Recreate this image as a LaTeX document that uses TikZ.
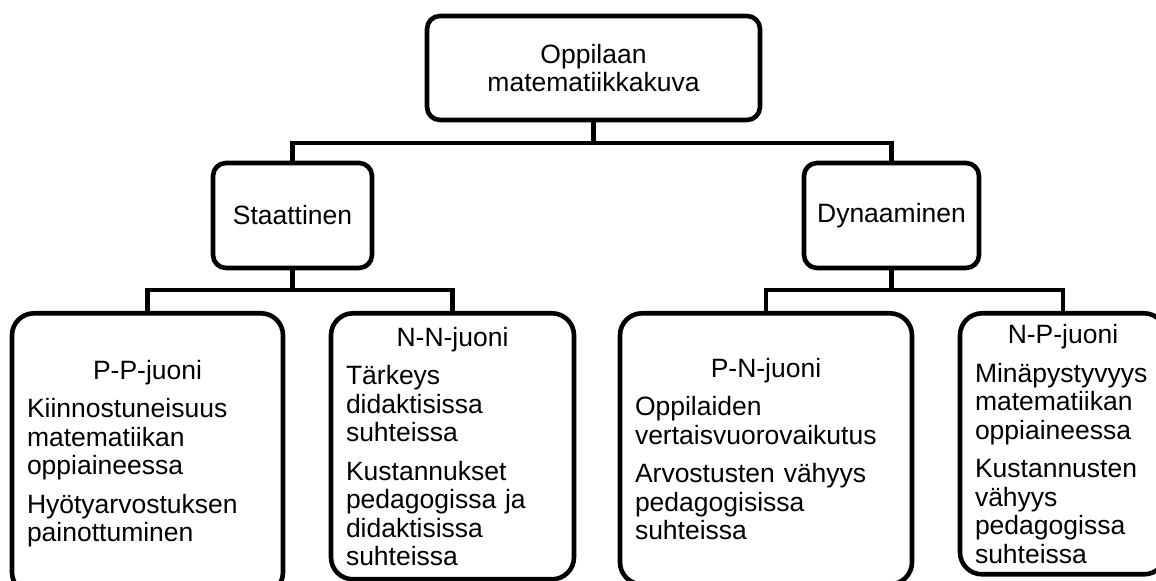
\documentclass[tikz,border=0pt]{standalone}
\usepackage{fontspec}
\setmainfont{Liberation Sans}

\newcommand{\otsikko}[1]{{\centering #1\par}}

\begin{document}
\begin{tikzpicture}[x=0.5pt, y=-0.5pt,
    box/.style={draw, line width=2.3pt, rounded corners=6.5pt, align=center, inner sep=0pt,
      font=\fontsize{13.25}{14.25}\selectfont},
    juoni/.style={draw, line width=2.3pt, rounded corners=11pt, anchor=north,
      inner xsep=7.5pt, inner ysep=0pt, align=left,
      font=\fontsize{13.25}{14.25}\selectfont,
      execute at begin node={\setlength{\parskip}{5pt}}},
    link/.style={line width=2.1pt}]
    \useasboundingbox (0,0) rectangle (1156,581);
    \clip (0,0) rectangle (1156,581);

    \node[box, minimum width=166.5pt, minimum height=52pt] (kuva) at (593.5,68) {Oppilaan\\matematiikkakuva};
    \node[box, minimum width=79.5pt, minimum height=52.5pt] (staat) at (292.5,215.5) {Staattinen};
    \node[box, minimum width=87.5pt, minimum height=52.5pt] (dyn) at (891.5,215.5) {Dynaaminen};

    % juonet
    \node[juoni, text width=120.5pt, minimum height=140.5pt] (pp) at (147.5,311) {\otsikko{P-P-juoni}
      Kiinnostuneisuus\\matematiikan\\oppiaineessa\par
      Hyötyarvostuksen\\painottuminen};
    \node[juoni, text width=106.5pt, minimum height=133pt] (nn) at (452.5,311) {\otsikko{N-N-juoni}
      Tärkeys\\didaktisissa\\suhteissa\par
      Kustannukset\\pedagogissa ja\\didaktisissa\\suhteissa};
    \node[juoni, text width=131pt, minimum height=135.5pt] (pn) at (766,311) {\otsikko{P-N-juoni}
      Oppilaiden\\vertaisvuorovaikutus\par
      Arvostusten vähyys\\pedagogisissa\\suhteissa};
    \node[juoni, text width=88pt, minimum height=130.5pt] (np) at (1063,311) {\otsikko{N-P-juoni}
      Minäpystyvyys\\matematiikan\\oppiaineessa\par
      Kustannusten\\vähyys\\pedagogissa\\suhteissa};

    \coordinate (haara) at (593.5,143);
    \coordinate (haaraS) at (292.5,290);
    \coordinate (haaraD) at (891.5,290);

    \draw[link] (kuva.south) -- (haara);
    \draw[link] (staat.north) |- (haara) -| (dyn.north);
    \draw[link] (staat.south) -- (haaraS);
    \draw[link] (pp.north) |- (haaraS) -| (nn.north);
    \draw[link] (dyn.south) -- (haaraD);
    \draw[link] (pn.north) |- (haaraD) -| (np.north);
\end{tikzpicture}
\end{document}
